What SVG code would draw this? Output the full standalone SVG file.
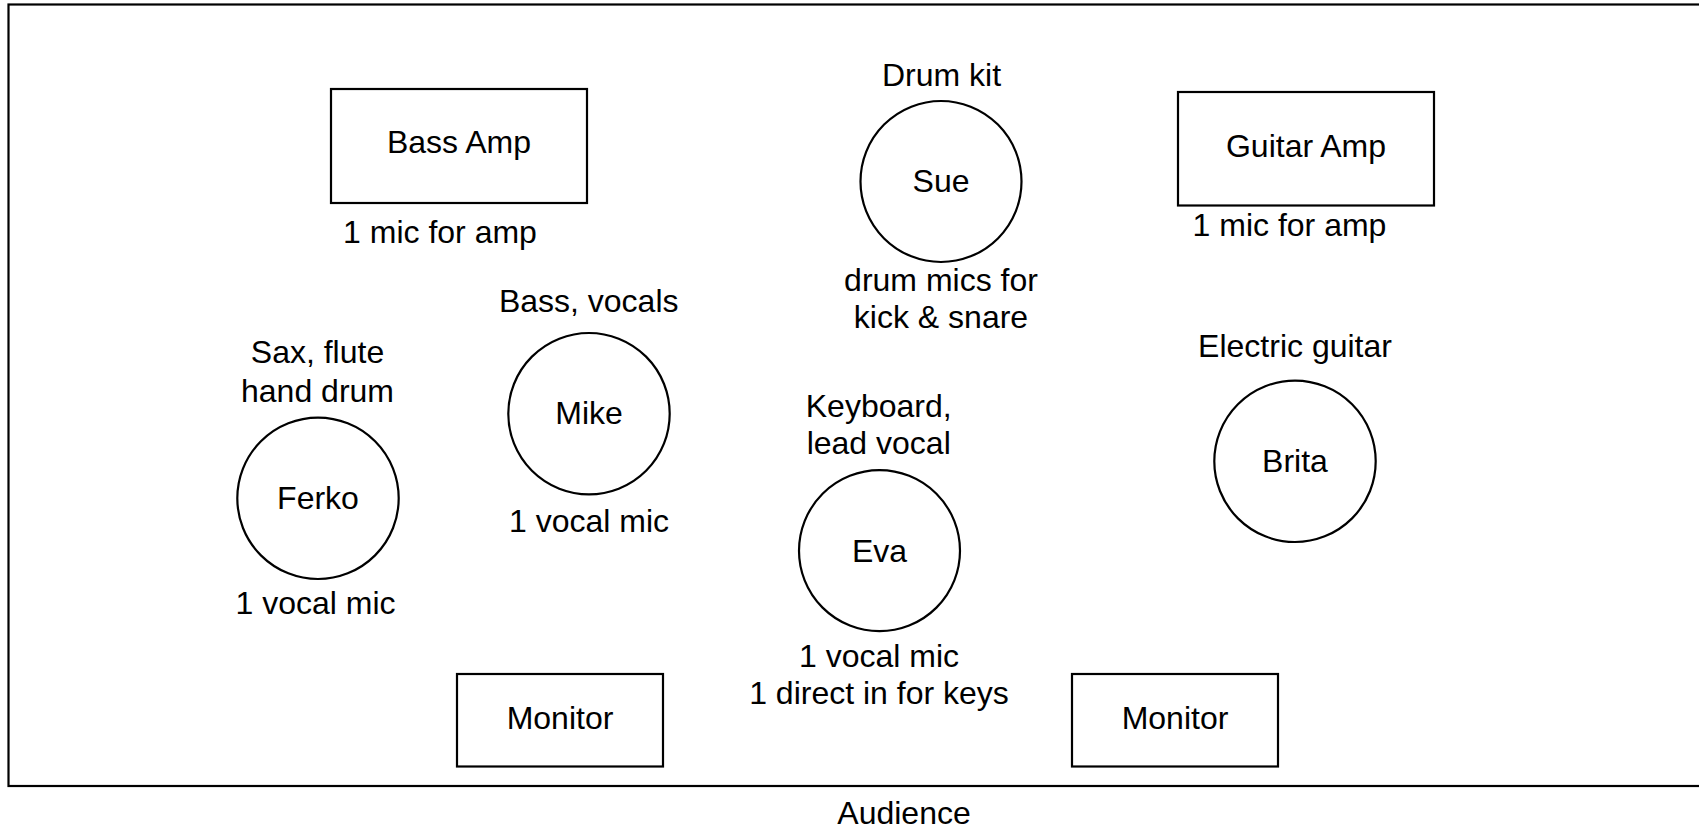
<svg xmlns="http://www.w3.org/2000/svg" width="1699" height="830" viewBox="0 0 1699 830">
<style>
.s{fill:none;stroke:#000;stroke-width:2.2}
text{font-family:"Liberation Sans",Arial,sans-serif;font-size:32px;fill:#000;text-anchor:middle}
</style>
<rect width="1699" height="830" fill="#fff"/>
<g id="stage"><rect class="s" x="8.5" y="4.5" width="1720" height="781.5"/></g>
<g id="bass-amp"><rect class="s" x="331" y="89" width="256" height="114"/><text x="459" y="153">Bass Amp</text><text x="440" y="242.7">1 mic for amp</text></g>
<g id="guitar-amp"><rect class="s" x="1178" y="92" width="256" height="113.5"/><text x="1306" y="156.7">Guitar Amp</text><text x="1289.5" y="235.7">1 mic for amp</text></g>
<g id="sue"><circle class="s" cx="941" cy="181.5" r="80.5"/><text x="941.5" y="85.7">Drum kit</text><text x="941" y="191.7">Sue</text><text x="941" y="290.7">drum mics for</text><text x="941" y="328.3">kick &amp; snare</text></g>
<g id="ferko"><circle class="s" cx="318" cy="498.3" r="80.7"/><text x="317.5" y="363.3">Sax, flute</text><text x="317.5" y="401.7">hand drum</text><text x="318" y="508.7">Ferko</text><text x="315.5" y="614">1 vocal mic</text></g>
<g id="mike"><circle class="s" cx="589" cy="413.7" r="80.7"/><text x="588.7" y="311.7">Bass, vocals</text><text x="589" y="424.3">Mike</text><text x="589" y="531.7">1 vocal mic</text></g>
<g id="eva"><circle class="s" cx="879.5" cy="550.7" r="80.5"/><text x="878.7" y="416.7">Keyboard,</text><text x="878.7" y="454">lead vocal</text><text x="879.5" y="561.7">Eva</text><text x="879" y="666.7">1 vocal mic</text><text x="879" y="704.3">1 direct in for keys</text></g>
<g id="brita"><circle class="s" cx="1295" cy="461.3" r="80.7"/><text x="1295" y="357.3">Electric guitar</text><text x="1295" y="471.7">Brita</text></g>
<g id="monitor-left"><rect class="s" x="457" y="674" width="206" height="92.5"/><text x="560" y="729">Monitor</text></g>
<g id="monitor-right"><rect class="s" x="1072" y="674" width="206" height="92.5"/><text x="1175" y="729">Monitor</text></g>
<g id="audience"><text x="904" y="824">Audience</text></g>
<g id="connectors"></g>
</svg>
